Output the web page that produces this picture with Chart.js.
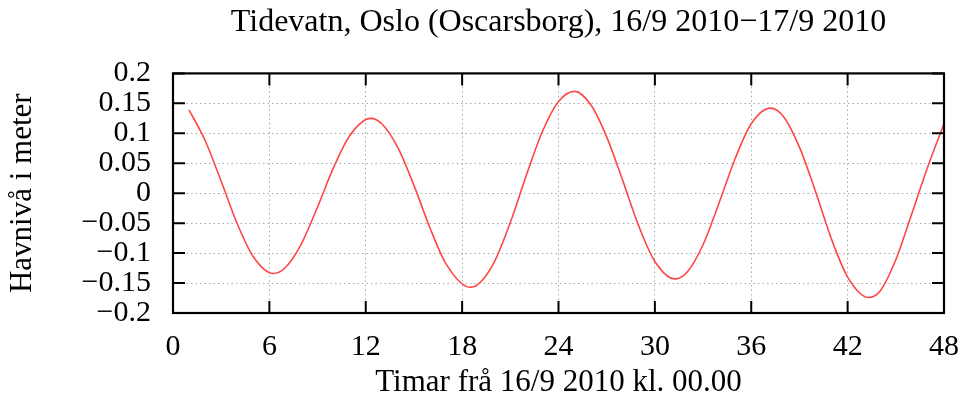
<!DOCTYPE html>
<html>
<head>
<meta charset="utf-8">
<script src="https://cdn.jsdelivr.net/npm/chart.js@4/dist/chart.umd.min.js"></script>
<style>
  html, body { margin: 0; padding: 0; background: #fff; }
  #wrap { width: 966px; height: 407px; }
</style>
</head>
<body>
<div id="wrap"><canvas id="tide" width="966" height="407"></canvas></div>
<script>
// tidevatn Oscarsborg, avlest frå figuren
let hours = [1, 2, 3, 4, 5, 6.25, 7, 8, 9, 10, 11, 12.3, 13, 14, 15, 16, 17, 18.5,
             19, 20, 21, 22, 23, 24, 25, 26, 27, 28, 29, 30, 31.25, 32, 33, 34, 35, 36, 37.2,
             38, 39, 40, 41, 42, 43.3, 44, 45, 46, 47, 48];
let level = [0.139, 0.088, 0.020, -0.051, -0.106, -0.134, -0.124, -0.084, -0.023, 0.043, 0.096, 0.125,
             0.116, 0.076, 0.013, -0.058, -0.118, -0.157,
             -0.152, -0.115, -0.049, 0.030, 0.103, 0.153, 0.170, 0.148, 0.094, 0.021, -0.055, -0.114, -0.143,
             -0.132, -0.086, -0.016, 0.058, 0.116, 0.142,
             0.128, 0.077, 0.003, -0.077, -0.140, -0.174, -0.164, -0.111, -0.034, 0.045, 0.116];
let xTicks = [0, 6, 12, 18, 24, 30, 36, 42, 48];
let yTicks = [-0.2, -0.15, -0.1, -0.05, 0, 0.05, 0.1, 0.15, 0.2];

let titleText = 'Tidevatn, Oslo (Oscarsborg), 16/9 2010\u221217/9 2010';
let xTitle = 'Timar frå 16/9 2010 kl. 00.00';
let yTitle = 'Havnivå i meter';

let serif = '"Liberation Serif", "DejaVu Serif", serif';

// gnuplot-ramme med innovervende merke på alle fire sider
let framePlugin = {
  id: 'frame',
  afterDraw(chart) {
    let c = chart.ctx, a = chart.chartArea;
    let xs = chart.scales.x, ys = chart.scales.y;
    c.save();
    c.strokeStyle = '#000';
    c.lineWidth = 2;
    c.beginPath();
    xTicks.forEach(function (t) {
      let px = xs.getPixelForValue(t);
      c.moveTo(px, a.bottom); c.lineTo(px, a.bottom - 12);
      c.moveTo(px, a.top); c.lineTo(px, a.top + 12);
    });
    yTicks.forEach(function (t) {
      let py = ys.getPixelForValue(t);
      c.moveTo(a.left, py); c.lineTo(a.left + 12, py);
      c.moveTo(a.right, py); c.lineTo(a.right - 12, py);
    });
    c.stroke();
    c.lineWidth = 2.2;
    c.strokeRect(a.left, a.top, a.right - a.left, a.bottom - a.top);
    c.restore();
  }
};

let ctx = document.getElementById('tide').getContext('2d');

let tideChart = new Chart(ctx, {
  type: 'line',
  data: {
    datasets: [{
      data: hours.map(function (h, i) { return { x: h, y: level[i] }; }),
      borderColor: 'rgb(255, 70, 70)',
      borderWidth: 1.6,
      pointRadius: 0,
      fill: false,
      cubicInterpolationMode: 'monotone'
    }]
  },
  options: {
    responsive: false,
    animation: false,
    layout: { padding: { left: 0, right: 22, top: 0, bottom: 0 } },
    plugins: {
      legend: { display: false },
      tooltip: { enabled: false },
      title: {
        display: true,
        text: titleText,
        fullSize: false,
        color: '#000',
        font: { family: serif, size: 32, weight: 'normal' },
        padding: { top: 3, bottom: 32 }
      }
    },
    scales: {
      x: {
        type: 'linear',
        min: 0,
        max: 48,
        afterFit: function (s) { s.height = 94; s.paddingLeft = 0; s.paddingRight = 0; },
        afterBuildTicks: function (s) { s.ticks = xTicks.map(function (v) { return { value: v }; }); },
        grid: { color: '#a8a8a8', lineWidth: 1, drawTicks: false },
        border: { display: false, dash: [1.5, 3] },
        ticks: {
          color: '#000',
          padding: 16,
          maxRotation: 0,
          autoSkip: false,
          font: { family: serif, size: 30 }
        },
        title: {
          display: true,
          text: xTitle,
          color: '#000',
          font: { family: serif, size: 31 },
          padding: { top: 0, bottom: 6 }
        }
      },
      y: {
        min: -0.2,
        max: 0.2,
        afterFit: function (s) { s.width = 173; s.paddingTop = 0; s.paddingBottom = 0; },
        afterBuildTicks: function (s) { s.ticks = yTicks.map(function (v) { return { value: v }; }); },
        grid: { color: '#a8a8a8', lineWidth: 1, drawTicks: false },
        border: { display: false, dash: [1.5, 3] },
        ticks: {
          color: '#000',
          padding: 22,
          autoSkip: false,
          font: { family: serif, size: 30 },
          callback: function (v) {
            let r = Math.round(v * 100) / 100;
            return String(r).replace('-', '\u2212');
          }
        },
        title: {
          display: true,
          text: yTitle,
          color: '#000',
          font: { family: serif, size: 31 },
          padding: { top: 4, bottom: 0 }
        }
      }
    }
  },
  plugins: [framePlugin]
});
</script>
</body>
</html>
